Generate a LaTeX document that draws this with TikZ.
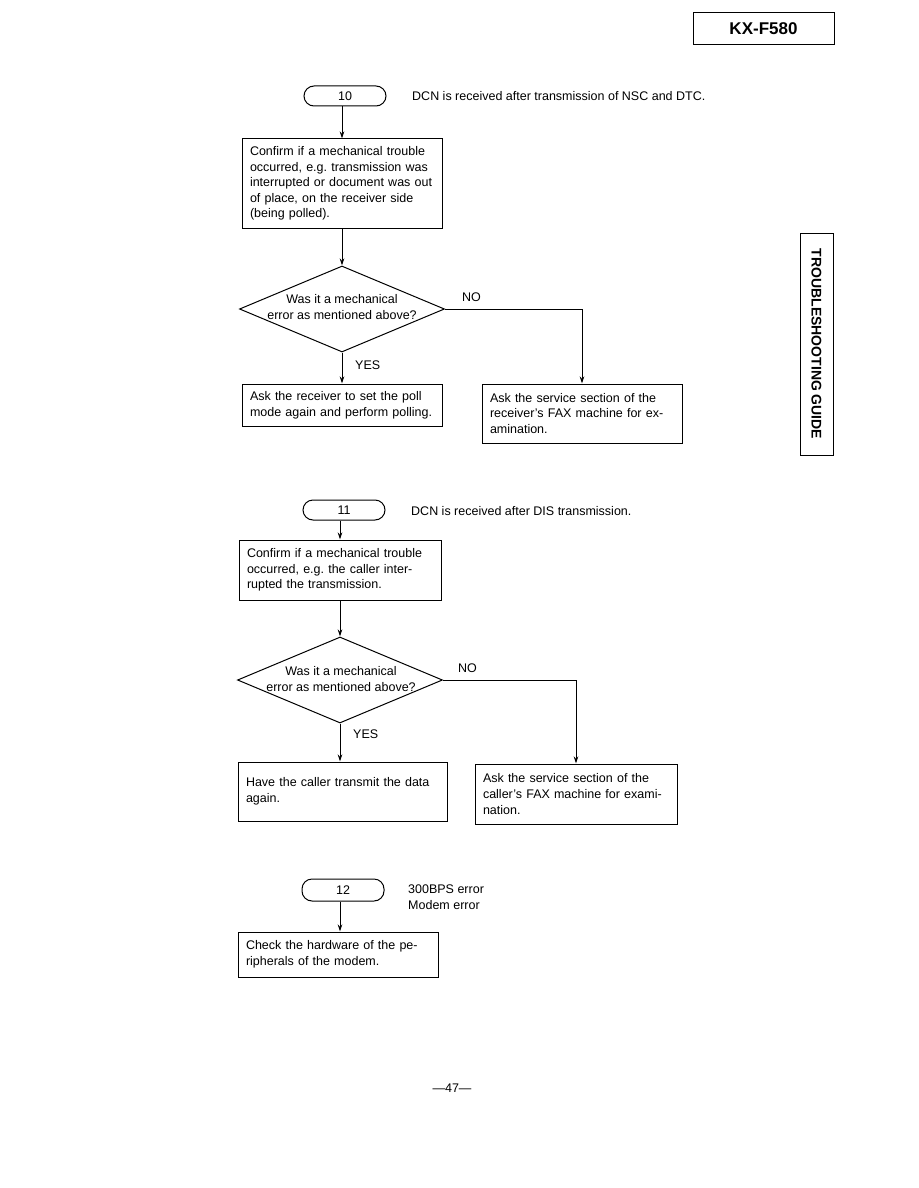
\documentclass[tikz,border=0pt]{standalone}
\usepackage{fontspec}
\setmainfont{Liberation Sans}
\usetikzlibrary{shapes.geometric,arrows.meta}
\frenchspacing
\begin{document}
\begin{tikzpicture}[x=1pt,y=-1pt,
  every node/.style={font=\fontsize{12.5}{15.6}\selectfont},
  procbox/.style={draw,line width=1pt,inner sep=0pt,align=left,anchor=center},
  term/.style={draw,line width=1pt,rounded corners=10pt,minimum width=82pt,minimum height=20pt,inner sep=0pt},
  dia/.style={draw,line width=1pt,shape=diamond,minimum width=205pt,minimum height=86pt,inner sep=0pt},
  lbl/.style={inner sep=0pt,align=left,anchor=west},
  conn/.style={line width=1pt,-{Stealth[length=7pt,width=4.5pt]}}]
\useasboundingbox (0,0) rectangle (918,1188);

% header and tab
\node[draw,line width=1pt,minimum width=141pt,minimum height=32pt,inner sep=0pt,font=\fontsize{17}{20}\selectfont\bfseries] (hdr) at (763.5,29) {KX-F580};
\node[draw,line width=1pt,minimum width=222pt,minimum height=33pt,inner sep=0pt,rotate=-90,font=\fontsize{14}{16}\selectfont\bfseries] (tab) at (816.5,344) {TROUBLESHOOTING GUIDE};

% ---------- 10 ----------
\node[term] (t10) at (345,96) {10};
\node[lbl] (t10txt) at (412,96) {DCN is received after transmission of NSC and DTC.};
\node[procbox,minimum width=200pt,minimum height=89pt,text width=184pt] (b10) at (342,183.5) {Confirm if a mechanical trouble\\occurred, e.g. transmission was\\interrupted or document was out\\of place, on the receiver side\\(being polled).};
\node[dia] (d10) at (342,309) {};
\node[inner sep=0pt,align=center] (d10txt) at (342,307) {Was it a mechanical\\error as mentioned above?};
\node[procbox,minimum width=200pt,minimum height=42pt,text width=184pt] (y10) at (342,405) {Ask the receiver to set the poll\\mode again and perform polling.};
\node[procbox,minimum width=200pt,minimum height=59pt,text width=184pt] (n10) at (582,413.5) {Ask the service section of the\\receiver's FAX machine for ex-\\amination.};
\node[lbl] (no10) at (462,297) {NO};
\node[lbl] (yes10) at (355,365) {YES};
\draw[conn] (b10.north |- t10.south) -- (b10.north);
\draw[conn] (b10.south) -- (d10.north);
\draw[conn] (d10.south) -- (y10.north);
\draw[conn] (d10.east) -| (n10.north);

% ---------- 11 ----------
\node[term] (t11) at (344,510) {11};
\node[lbl] (t11txt) at (411,511) {DCN is received after DIS transmission.};
\node[procbox,minimum width=202pt,minimum height=60pt,text width=186pt] (b11) at (340,570) {Confirm if a mechanical trouble\\occurred, e.g. the caller inter-\\rupted the transmission.};
\node[dia] (d11) at (340,680) {};
\node[inner sep=0pt,align=center] (d11txt) at (341,679) {Was it a mechanical\\error as mentioned above?};
\node[procbox,minimum width=209pt,minimum height=59pt,text width=193pt] (y11) at (342.5,791.5) {Have the caller transmit the data\\again.};
\node[procbox,minimum width=202pt,minimum height=60pt,text width=186pt] (n11) at (576,794) {Ask the service section of the\\caller's FAX machine for exami-\\nation.};
\node[lbl] (no11) at (458,668) {NO};
\node[lbl] (yes11) at (353,734) {YES};
\draw[conn] (b11.north |- t11.south) -- (b11.north);
\draw[conn] (b11.south) -- (d11.north);
\draw[conn] (d11.south) -- (d11.south |- y11.north);
\draw[conn] (d11.east) -| (n11.north);

% ---------- 12 ----------
\node[term,minimum height=22pt] (t12) at (343,890) {12};
\node[lbl] (t12txt) at (408,897) {300BPS error\\Modem error};
\node[procbox,minimum width=200pt,minimum height=45pt,text width=184pt] (b12) at (338,954.5) {Check the hardware of the pe-\\ripherals of the modem.};
\coordinate (c12) at (340,0);
\draw[conn] (t12.south -| c12) -- (b12.north -| c12);

% page number
\node[inner sep=0pt] (pg) at (452,1088) {—47—};
\end{tikzpicture}
\end{document}
